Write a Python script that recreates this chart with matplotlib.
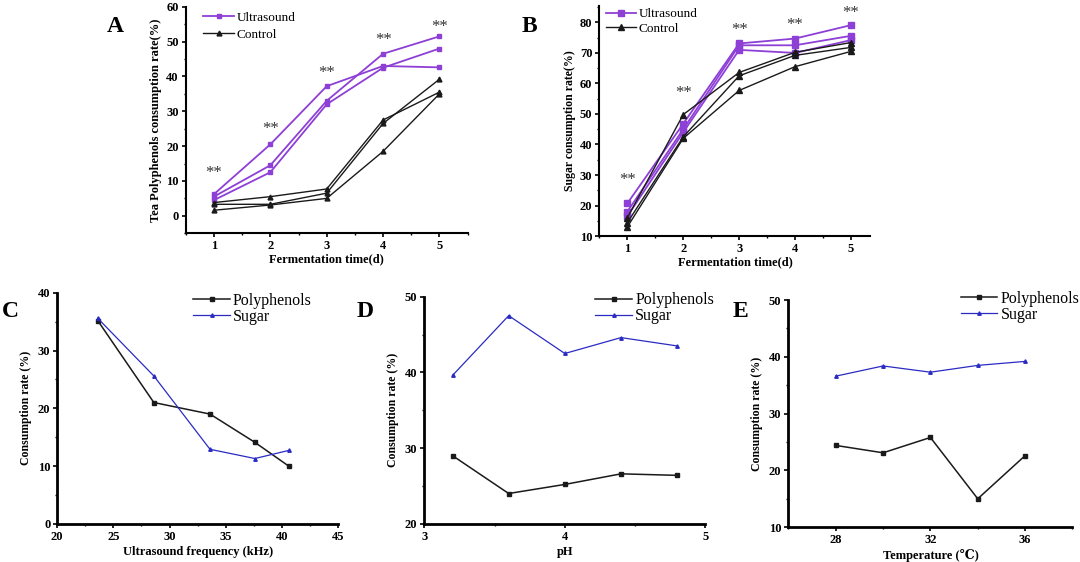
import numpy as np
import matplotlib.pyplot as plt
from matplotlib.ticker import MultipleLocator

plt.rcParams['font.family'] = ['Liberation Serif', 'DejaVu Serif']

# ---- data ----
days = [1, 2, 3, 4, 5]

# panel A: tea polyphenols consumption rate (%)
tp_us1 = [6.2, 20.5, 37.2, 43.0, 42.6]
tp_us2 = [5.5, 14.5, 33.0, 46.5, 51.5]
tp_us3 = [4.5, 12.5, 32.0, 42.5, 48.0]
tp_ct1 = [3.8, 5.5, 7.7, 27.5, 35.5]
tp_ct2 = [3.3, 3.3, 6.5, 26.5, 39.2]
tp_ct3 = [1.6, 3.1, 5.0, 18.5, 35.0]
tp_star = [12.2, 24.8, 41.0, 50.5, 54.3]

# panel B: sugar consumption rate (%)
su_us1 = [20.7, 46.8, 73.1, 74.7, 79.1]
su_us2 = [18.0, 45.0, 72.5, 72.5, 75.6]
su_us3 = [16.5, 44.0, 71.0, 70.0, 74.2]
su_ct1 = [16.0, 49.8, 63.6, 70.2, 73.4]
su_ct2 = [14.4, 42.5, 62.5, 69.2, 71.8]
su_ct3 = [13.0, 42.0, 57.7, 65.5, 70.5]
su_star = [28.3, 56.9, 77.5, 79.1, 83.2]

# panel C: ultrasound frequency
freq = [23.6, 28.6, 33.6, 37.6, 40.6]
freq_poly = [35.2, 21.0, 19.0, 14.1, 10.0]
freq_sugar = [35.6, 25.6, 12.9, 11.3, 12.7]

# panel D: pH
ph = [3.2, 3.6, 4.0, 4.4, 4.8]
ph_poly = [29.0, 24.0, 25.2, 26.6, 26.4]
ph_sugar = [39.6, 47.5, 42.5, 44.6, 43.5]

# panel E: temperature
temp = [28, 30, 32, 34, 36]
temp_poly = [24.4, 23.1, 25.8, 15.0, 22.6]
temp_sugar = [36.6, 38.4, 37.3, 38.5, 39.2]

purple = '#8e3fd6'
blue = '#2b2bc4'
black = '#1a1a1a'

fig = plt.figure(figsize=(10.8, 5.62), dpi=100)


def style_axes(ax, lw=1.5):
    for s in ['top', 'right']:
        ax.spines[s].set_visible(False)
    for s in ['left', 'bottom']:
        ax.spines[s].set_linewidth(lw)
    ax.tick_params(which='major', direction='out', length=3, width=1.2,
                   labelsize=9, pad=2)
    ax.tick_params(which='minor', direction='out', length=1.5, width=1)
    for lab in ax.get_xticklabels() + ax.get_yticklabels():
        lab.set_fontweight('bold')


# ---- A ----
axA = fig.add_axes([0.172, 0.585, 0.261, 0.403])
for y in [tp_us1, tp_us2, tp_us3]:
    axA.plot(days, y, color=purple, marker='s', ms=3.5, lw=1.3)
for y in [tp_ct1, tp_ct2, tp_ct3]:
    axA.plot(days, y, color=black, marker='^', ms=3.5, lw=1.0)
for d, s in zip(days, tp_star):
    axA.text(d, s, '**', ha='center', va='center', fontsize=12, color='#333333')
axA.set_xlim(0.5, 5.5)
axA.set_ylim(-5, 60)
axA.xaxis.set_major_locator(MultipleLocator(1))
axA.xaxis.set_minor_locator(MultipleLocator(0.5))
axA.yaxis.set_major_locator(MultipleLocator(10))
axA.yaxis.set_minor_locator(MultipleLocator(5))
axA.set_xlabel('Fermentation time(d)', fontsize=9, fontweight='bold', labelpad=1)
axA.set_ylabel('Tea Polyphenols consumption rate(%)', fontsize=9,
               fontweight='bold', labelpad=3)
style_axes(axA)
axA.plot([], [], color=purple, marker='s', ms=3.5, lw=1.3, label='Ultrasound')
axA.plot([], [], color=black, marker='^', ms=3.5, lw=1.0, label='Control')
h, l = axA.get_legend_handles_labels()
axA.legend(h[-2:], l[-2:], loc='upper left', bbox_to_anchor=(0.03, 1.02),
           frameon=False, fontsize=9.5, handlelength=2.3, handletextpad=0.2,
           labelspacing=0.35, borderaxespad=0.3)
fig.text(0.099, 0.952, 'A', fontsize=17, fontweight='bold', va='center')

# ---- B ----
axB = fig.add_axes([0.555, 0.580, 0.251, 0.410])
for y in [su_us1, su_us2, su_us3]:
    axB.plot(days, y, color=purple, marker='s', ms=4, lw=1.3)
for y in [su_ct1, su_ct2, su_ct3]:
    axB.plot(days, y, color=black, marker='^', ms=4, lw=1.0)
for d, s in zip(days, su_star):
    axB.text(d, s, '**', ha='center', va='center', fontsize=12, color='#333333')
axB.set_xlim(0.5, 5.35)
axB.set_ylim(10, 85.5)
axB.xaxis.set_major_locator(MultipleLocator(1))
axB.xaxis.set_minor_locator(MultipleLocator(0.5))
axB.yaxis.set_major_locator(MultipleLocator(10))
axB.yaxis.set_minor_locator(MultipleLocator(5))
axB.set_xlabel('Fermentation time(d)', fontsize=9, fontweight='bold', labelpad=1)
axB.set_ylabel('Sugar consumption rate(%)', fontsize=8.5, fontweight='bold',
               labelpad=3)
style_axes(axB)
axB.plot([], [], color=purple, marker='s', ms=4, lw=1.3, label='Ultrasound')
axB.plot([], [], color=black, marker='^', ms=4, lw=1.0, label='Control')
h, l = axB.get_legend_handles_labels()
axB.legend(h[-2:], l[-2:], loc='upper left', bbox_to_anchor=(-0.01, 1.03),
           frameon=False, fontsize=9.5, handlelength=2.3, handletextpad=0.2,
           labelspacing=0.2, borderaxespad=0.3)
fig.text(0.483, 0.952, 'B', fontsize=17, fontweight='bold', va='center')


def factor_panel(rect, x, poly, sugar, xlim, ylim, xmaj, xmin, xlabel,
                 letter, lx, legx, legy):
    ax = fig.add_axes(rect)
    ax.plot(x, poly, color=black, marker='s', ms=2.5, lw=1.1, label='Polyphenols')
    ax.plot(x, sugar, color=blue, marker='^', ms=2.5, lw=0.9, label='Sugar')
    ax.set_xlim(*xlim)
    ax.set_ylim(*ylim)
    ax.xaxis.set_major_locator(MultipleLocator(xmaj))
    ax.xaxis.set_minor_locator(MultipleLocator(xmin))
    ax.yaxis.set_major_locator(MultipleLocator(10))
    ax.yaxis.set_minor_locator(MultipleLocator(5))
    ax.set_xlabel(xlabel, fontsize=9, fontweight='bold', labelpad=2)
    ax.set_ylabel('Consumption rate (%)', fontsize=8.5, fontweight='bold',
                  labelpad=4)
    style_axes(ax, lw=2)
    ax.legend(loc='upper left', bbox_to_anchor=(legx, legy), frameon=False,
              fontsize=11.5, handlelength=2.3, handletextpad=0.2,
              labelspacing=0.0, borderaxespad=0.0, borderpad=0.0)
    fig.text(lx, 0.445, letter, fontsize=17, fontweight='bold', va='center')
    return ax


factor_panel([0.053, 0.068, 0.260, 0.411], freq, freq_poly, freq_sugar,
             (20, 45), (0, 40), 5, 2.5, 'Ultrasound frequency (kHz)', 'C',
             0.002, 0.484, 1.0)
factor_panel([0.393, 0.068, 0.260, 0.404], ph, ph_poly, ph_sugar,
             (3, 5), (20, 50), 1, 0.5, 'pH', 'D', 0.330, 0.608, 1.02)
factor_panel([0.730, 0.062, 0.263, 0.404], temp, temp_poly, temp_sugar,
             (26, 38), (10, 50), 4, 2, 'Temperature (\u2103)', 'E',
             0.678, 0.606, 1.04)

fig.savefig('out.png', dpi=100)
